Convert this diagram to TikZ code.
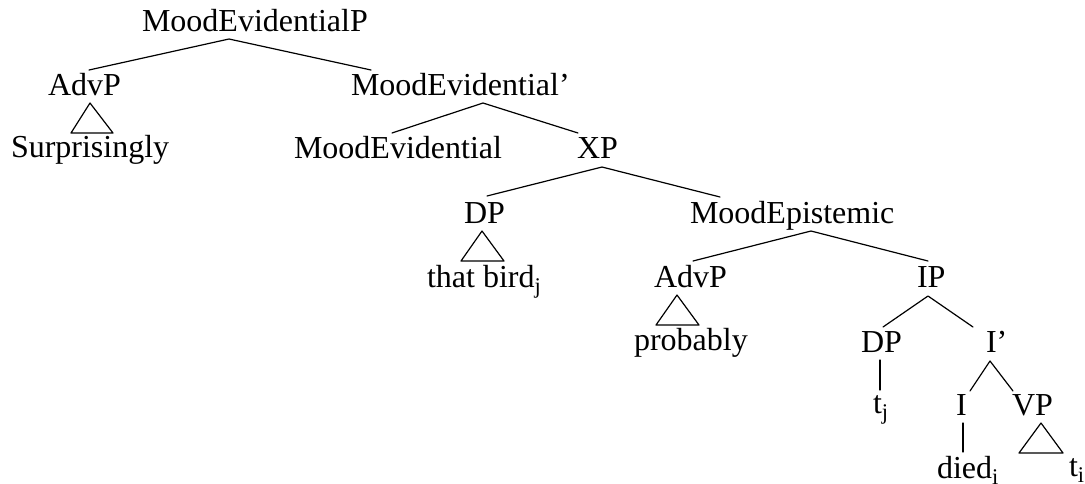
\documentclass[tikz,border=0pt]{standalone}
\usepackage{fontspec}
\setmainfont{Liberation Serif}
\begin{document}
\begin{tikzpicture}[x=1pt,y=-1pt,
  lbl/.style={anchor=base west,inner sep=0pt,outer sep=0pt,
    font=\fontsize{32}{38}\selectfont},
  branch/.style={line width=1.2pt,line cap=round,line join=round}]
\useasboundingbox (0,0) rectangle (1085,483);

% labels, placed by their baselines
\node[lbl] (mevp)   at (142,31)  {MoodEvidentialP};
\node[lbl] (advpA)  at (48,95)   {AdvP};
\node[lbl] (surp)   at (11,157)  {Surprisingly};
\node[lbl] (mevbar) at (351,95)  {MoodEvidential’};
\node[lbl] (mev)    at (294,158) {MoodEvidential};
\node[lbl] (xp)     at (577,158) {XP};
\node[lbl] (dpA)    at (464,223) {DP};
\node[lbl] (bird)   at (427,287) {that bird\textsubscript{j}};
\node[lbl] (mepi)   at (690,223) {MoodEpistemic};
\node[lbl] (advpB)  at (654,287) {AdvP};
\node[lbl] (prob)   at (634,350) {probably};
\node[lbl] (ip)     at (917,287) {IP};
\node[lbl] (dpB)    at (861,352) {DP};
\node[lbl] (tj)     at (873,413) {t\textsubscript{j}};
\node[lbl] (ibar)   at (986,352) {I’};
\node[lbl] (infl)   at (956,415) {I};
\node[lbl] (vp)     at (1012,415) {VP};
\node[lbl] (died)   at (937,478) {died\textsubscript{i}};
\node[lbl] (ti)     at (1069,476) {t\textsubscript{i}};

% attachment points of the branches
\coordinate (mevp-b)   at (229,39);
\coordinate (advpA-t)  at (89,70);
\coordinate (mevbar-t) at (371,70);
\coordinate (mevbar-b) at (483,103);
\coordinate (mev-t)    at (392,133);
\coordinate (xp-t)     at (578,133);
\coordinate (xp-b)     at (602,167);
\coordinate (dpA-t)    at (487,196);
\coordinate (mepi-t)   at (720,197);
\coordinate (mepi-b)   at (811,231);
\coordinate (advpB-t)  at (693,261);
\coordinate (ip-t)     at (928,261);
\coordinate (ip-b)     at (928,296);
\coordinate (dpB-t)    at (883,327);
\coordinate (ibar-t)   at (973,327);
\coordinate (dpB-b)    at (880,360);
\coordinate (tj-t)     at (880,390);
\coordinate (ibar-b)   at (990,361);
\coordinate (infl-t)   at (970,391);
\coordinate (vp-t)     at (1013,391);
\coordinate (infl-b)   at (963,423);
\coordinate (died-t)   at (963,452);

% triangle corners (apex, left, right)
\coordinate (triA-a) at (90,103);  \coordinate (triA-l) at (71,133);  \coordinate (triA-r) at (113,133);
\coordinate (triB-a) at (482,231); \coordinate (triB-l) at (461,261); \coordinate (triB-r) at (504,261);
\coordinate (triC-a) at (677,295); \coordinate (triC-l) at (656,325); \coordinate (triC-r) at (699,325);
\coordinate (triD-a) at (1041,423);\coordinate (triD-l) at (1019,453);\coordinate (triD-r) at (1063,453);

% branches
\draw[branch] (advpA-t) -- (mevp-b) -- (mevbar-t);
\draw[branch] (mev-t) -- (mevbar-b) -- (xp-t);
\draw[branch] (dpA-t) -- (xp-b) -- (mepi-t);
\draw[branch] (advpB-t) -- (mepi-b) -- (ip-t);
\draw[branch] (dpB-t) -- (ip-b) -- (ibar-t);
\draw[branch] (dpB-b) -- (tj-t);
\draw[branch] (infl-t) -- (ibar-b) -- (vp-t);
\draw[branch] (infl-b) -- (died-t);

% roofs over unanalysed constituents
\draw[branch] (triA-a) -- (triA-l) -- (triA-r) -- cycle;
\draw[branch] (triB-a) -- (triB-l) -- (triB-r) -- cycle;
\draw[branch] (triC-a) -- (triC-l) -- (triC-r) -- cycle;
\draw[branch] (triD-a) -- (triD-l) -- (triD-r) -- cycle;
\end{tikzpicture}
\end{document}
